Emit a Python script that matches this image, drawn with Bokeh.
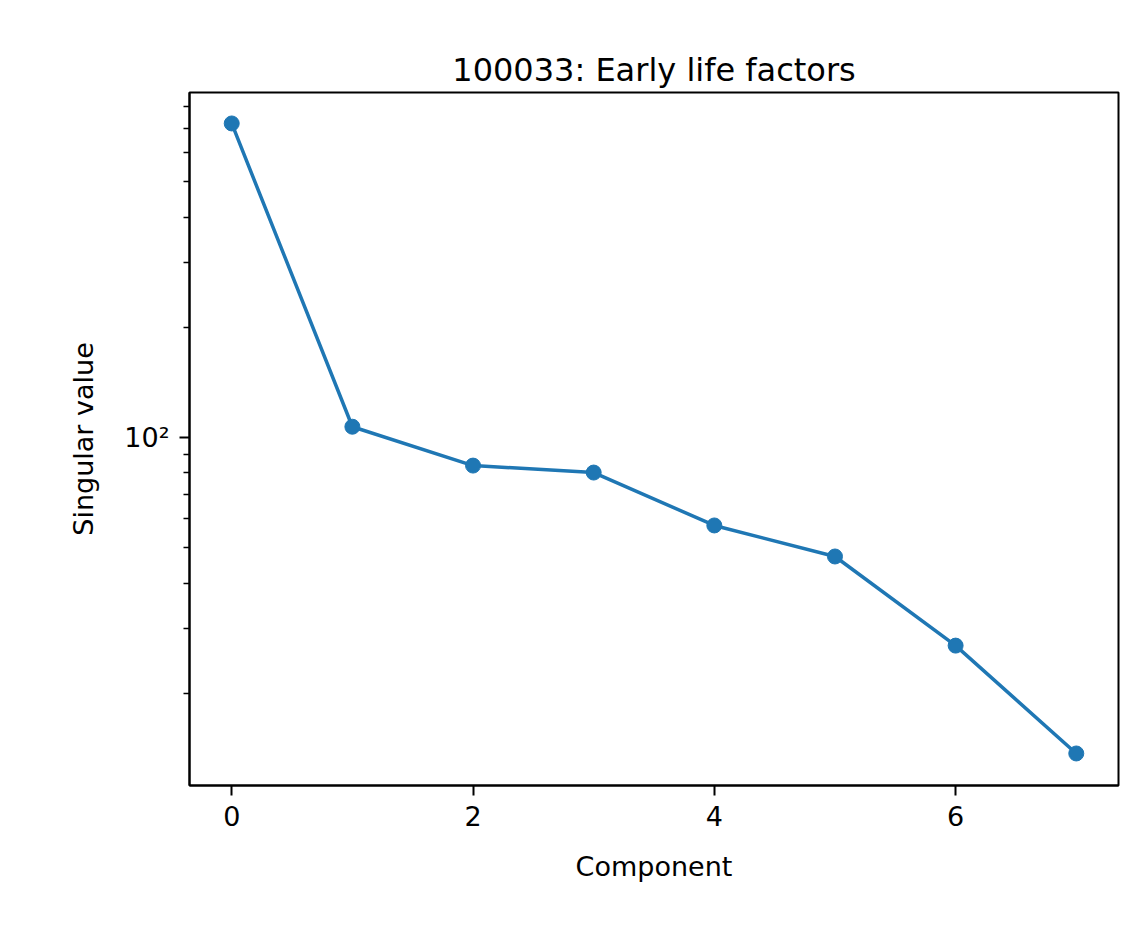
from bokeh.plotting import figure
from bokeh.models import FixedTicker, CustomJSTickFormatter, Range1d
from bokeh.embed import file_html
from bokeh.resources import INLINE

# Data
components = [0, 1, 2, 3, 4, 5, 6, 7]
singular_values = [721, 107, 83.8, 80.2, 57.5, 47.3, 27.0, 13.7]
x_ticks = [0, 2, 4, 6]
y_major = [100]
y_minor = [20, 30, 40, 50, 60, 70, 80, 90, 200, 300, 400, 500, 600, 700, 800]

FONT = "DejaVu Sans"
COLOR = "#1f77b4"

p = figure(width=1138, height=933, y_axis_type="log",
           x_range=Range1d(-0.35, 7.35), y_range=Range1d(11.2, 876),
           title="100033: Early life factors",
           output_backend="svg", toolbar_location=None, tools="")
p.min_border_left = 189
p.min_border_right = 20
p.min_border_top = 92
p.min_border_bottom = 148

p.title.align = "center"
p.title.text_font = FONT
p.title.text_font_size = "32px"
p.title.text_font_style = "normal"
p.title.text_color = "black"
p.title.offset = 0
p.title.standoff = 8

p.line(components, singular_values, line_color=COLOR, line_width=3.5)
p.scatter(components, singular_values, size=15, fill_color=COLOR, line_color=COLOR)

p.grid.visible = False
p.outline_line_color = "black"
p.outline_line_width = 2

p.xaxis.ticker = FixedTicker(ticks=x_ticks)
p.yaxis.ticker = FixedTicker(ticks=y_major, minor_ticks=y_minor)
p.yaxis.formatter = CustomJSTickFormatter(code="return '10\u00b2';")
p.xaxis.axis_label = "Component"
p.yaxis.axis_label = "Singular value"

for ax in [p.xaxis[0], p.yaxis[0]]:
    ax.axis_label_text_font = FONT
    ax.axis_label_text_font_size = "27px"
    ax.axis_label_text_font_style = "normal"
    ax.axis_label_text_color = "black"
    ax.major_label_text_font = FONT
    ax.major_label_text_font_size = "27px"
    ax.major_label_text_color = "black"
    ax.axis_line_width = 2
    ax.major_tick_line_width = 2
    ax.minor_tick_line_width = 1.5
    ax.major_tick_in = 0
    ax.major_tick_out = 10
    ax.minor_tick_in = 0
    ax.minor_tick_out = 6
    ax.major_label_standoff = 10

p.xaxis.axis_label_standoff = 22
p.yaxis.axis_label_standoff = 22

open("out.html", "w").write(file_html(p, INLINE))
